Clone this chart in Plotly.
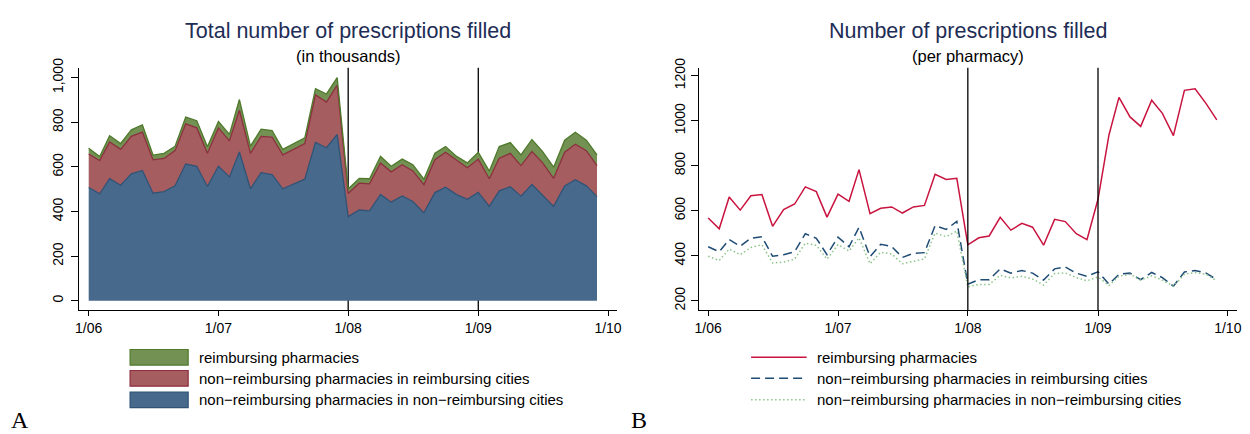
import pandas as pd
import plotly.graph_objects as go

# ---- data -----------------------------------------------------------------
months = pd.date_range("2006-01-01", periods=48, freq="MS")

# Panel A: total prescriptions filled (thousands), stacked components
nonreimb_nonreimb_cities = [508, 479, 547, 518, 569, 584, 482, 489, 515, 613, 603, 512,
                            603, 555, 667, 502, 574, 566, 502, 525, 545, 710, 686, 746,
                            377, 407, 403, 477, 442, 470, 445, 394, 485, 509, 476, 455,
                            486, 423, 493, 511, 469, 521, 474, 423, 515, 543, 515, 467]
nonreimb_reimb_cities = [150, 149, 165, 161, 168, 172, 150, 149, 158, 180, 172, 149,
                         172, 162, 187, 159, 163, 168, 152, 154, 160, 213, 205, 221,
                         104, 120, 121, 141, 136, 140, 137, 126, 147, 157, 153, 141,
                         149, 124, 146, 150, 137, 148, 144, 126, 151, 159, 158, 139]
reimbursing_total = [26, 19, 28, 26, 29, 32, 21, 23, 20, 30, 32, 29,
                     29, 29, 48, 32, 32, 29, 25, 26, 25, 28, 36, 33,
                     20, 22, 23, 29, 25, 25, 28, 25, 29, 25, 18, 22,
                     31, 34, 52, 48, 48, 54, 51, 50, 54, 53, 47, 48]

# Panel B: prescriptions filled per pharmacy
reimb_per_pharm = [568, 520, 661, 603, 667, 672, 531, 605, 630, 706, 685, 572,
                   674, 642, 783, 587, 611, 617, 590, 617, 624, 762, 739, 744,
                   449, 480, 488, 571, 514, 544, 527, 447, 562, 552, 498, 472,
                   651, 938, 1104, 1017, 975, 1091, 1033, 934, 1135, 1142, 1076, 1004]
nonreimb_reimb_per_pharm = [440, 418, 472, 443, 478, 485, 398, 405, 418, 498, 478, 405,
                            483, 440, 527, 396, 451, 441, 393, 411, 414, 534, 517, 553,
                            274, 294, 294, 342, 323, 335, 323, 292, 342, 350, 323, 309,
                            329, 274, 318, 323, 294, 326, 303, 265, 328, 335, 323, 294]
nonreimb_nonreimb_per_pharm = [398, 379, 430, 405, 437, 449, 368, 372, 385, 456, 447, 385,
                               450, 421, 480, 365, 416, 408, 365, 375, 386, 501, 485, 510,
                               262, 273, 273, 313, 302, 309, 297, 270, 321, 324, 303, 289,
                               306, 268, 309, 318, 292, 311, 292, 265, 318, 326, 318, 289]

tick_dates = ["2006-01-01", "2007-01-01", "2008-01-01", "2009-01-01", "2010-01-01"]
tick_text = ["1/06", "1/07", "1/08", "1/09", "1/10"]
policy_dates = ["2008-01-01", "2009-01-01"]

left_yticks = [0, 200, 400, 600, 800, 1000]
left_yticktext = ["0", "200", "400", "600", "800", "1,000"]
right_yticks = [200, 400, 600, 800, 1000, 1200]

series_names = ["reimbursing pharmacies",
                "non\u2212reimbursing pharmacies in reimbursing cities",
                "non\u2212reimbursing pharmacies in non\u2212reimbursing cities"]

# ---- styling --------------------------------------------------------------
W, H = 1250, 434
SANS = "Liberation Sans, Arial, sans-serif"
TITLE_COLOR = "#1e2d55"

blue_fill, blue_line = "#476a8c", "#2f5276"
red_fill, red_line = "#a55d60", "#8c2f3e"
green_fill, green_line = "#739153", "#4f7a2c"

line_red = "#c8143f"
line_navy = "#1f4c74"
line_green = "#8cc48a"
NAVY_DASH = "9px,5px"
GREEN_DOT = "1.5px,2.5px"


def px_x(p):
    return p / W


def px_y(p):
    return 1 - p / H


fig = go.Figure()

# Panel A stacked areas
for vals, fill, lc in [(nonreimb_nonreimb_cities, blue_fill, blue_line),
                       (nonreimb_reimb_cities, red_fill, red_line),
                       (reimbursing_total, green_fill, green_line)]:
    fig.add_trace(go.Scatter(x=months, y=vals, stackgroup="a", mode="lines",
                             fillcolor=fill, line=dict(color=lc, width=1.3),
                             xaxis="x", yaxis="y", showlegend=False,
                             hoverinfo="skip"))

# Panel B lines
fig.add_trace(go.Scatter(x=months, y=reimb_per_pharm, mode="lines",
                         line=dict(color=line_red, width=1.5),
                         xaxis="x2", yaxis="y2", showlegend=False))
fig.add_trace(go.Scatter(x=months, y=nonreimb_reimb_per_pharm, mode="lines",
                         line=dict(color=line_navy, width=1.5, dash=NAVY_DASH),
                         xaxis="x2", yaxis="y2", showlegend=False))
fig.add_trace(go.Scatter(x=months, y=nonreimb_nonreimb_per_pharm, mode="lines",
                         line=dict(color=line_green, width=1.5, dash=GREEN_DOT),
                         xaxis="x2", yaxis="y2", showlegend=False))

axis_common = dict(showline=True, linecolor="black", linewidth=1.3,
                   showgrid=False, zeroline=False, ticks="outside",
                   tickcolor="black", tickwidth=1.2,
                   tickfont=dict(family=SANS, size=14, color="black"))

ydom = [px_y(307), px_y(59)]

fig.update_layout(
    width=W, height=H, margin=dict(l=0, r=0, t=0, b=0),
    paper_bgcolor="white", plot_bgcolor="white",
    xaxis=dict(domain=[px_x(76), px_x(617)], anchor="y", type="date",
               range=["2005-12-06", "2010-01-25"], tickvals=tick_dates,
               ticktext=tick_text, ticklen=5, **axis_common),
    yaxis=dict(domain=ydom, anchor="x", range=[-41, 1045],
               tickvals=left_yticks, ticktext=left_yticktext, tickangle=-90,
               ticklen=7, ticklabelstandoff=3, **axis_common),
    xaxis2=dict(domain=[px_x(700), px_x(1242)], anchor="y2", type="date",
                range=["2005-12-06", "2010-01-27"], tickvals=tick_dates,
                ticktext=tick_text, ticklen=5, **axis_common),
    yaxis2=dict(domain=ydom, anchor="x2", range=[159.5, 1236],
                tickvals=right_yticks, tickangle=-90, ticklen=7, **axis_common),
)

# Policy-change reference lines
for xa, ya, layer in [("x", "y", "below"), ("x2", "y2", "above")]:
    for d in policy_dates:
        fig.add_shape(type="line", xref=xa, yref=f"{ya} domain", x0=d, x1=d,
                      y0=0, y1=1, line=dict(color="black", width=1.3), layer=layer)

# Titles and subtitles
for cx, title, sub in [((76 + 617) / 2, "Total number of prescriptions filled", "(in thousands)"),
                       ((700 + 1242) / 2, "Number of prescriptions filled", "(per pharmacy)")]:
    fig.add_annotation(x=px_x(cx), y=px_y(21), xref="paper", yref="paper",
                       text=title, showarrow=False, xanchor="center", yanchor="middle",
                       font=dict(family=SANS, size=21.5, color=TITLE_COLOR))
    fig.add_annotation(x=px_x(cx), y=px_y(47), xref="paper", yref="paper",
                       text=sub, showarrow=False, xanchor="center", yanchor="middle",
                       font=dict(family=SANS, size=16.5, color="black"))

# Legends
rows = [355.5, 377, 399]
left_swatches = [(green_fill, green_line), (red_fill, red_line), (blue_fill, blue_line)]
for yc, (fc, lc), name in zip(rows, left_swatches, series_names):
    fig.add_shape(type="rect", xref="paper", yref="paper",
                  x0=px_x(127), x1=px_x(185.5), y0=px_y(yc - 8), y1=px_y(yc + 8),
                  fillcolor=fc, line=dict(color=lc, width=1.2))
    fig.add_annotation(x=px_x(194), y=px_y(yc), xref="paper", yref="paper",
                       text=name, showarrow=False, xanchor="left", yanchor="middle",
                       font=dict(family=SANS, size=15, color="black"))

right_styles = [(line_red, "solid"), (line_navy, NAVY_DASH), (line_green, GREEN_DOT)]
for yc, (lc, dash), name in zip(rows, right_styles, series_names):
    fig.add_shape(type="line", xref="paper", yref="paper",
                  x0=px_x(752.5), x1=px_x(808.5), y0=px_y(yc), y1=px_y(yc),
                  line=dict(color=lc, width=1.5, dash=dash))
    fig.add_annotation(x=px_x(817), y=px_y(yc), xref="paper", yref="paper",
                       text=name, showarrow=False, xanchor="left", yanchor="middle",
                       font=dict(family=SANS, size=15, color="black"))

# Panel letters
for x, letter in [(6, "A"), (631, "B")]:
    fig.add_annotation(x=px_x(x), y=0, xref="paper", yref="paper",
                       text=letter, showarrow=False, xanchor="left", yanchor="bottom",
                       borderpad=0,
                       font=dict(family="Liberation Serif, serif", size=24, color="black"))

fig.write_html("out.html")
